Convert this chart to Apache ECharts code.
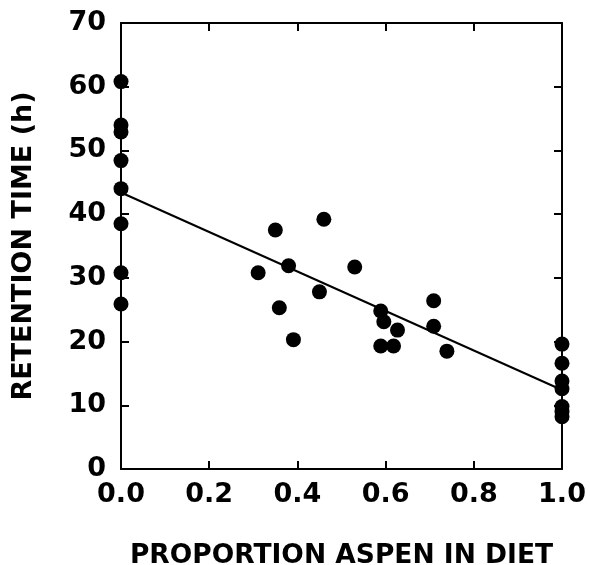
<!DOCTYPE html>
<html><head><meta charset="utf-8">
<script src="https://cdn.jsdelivr.net/npm/echarts@6/dist/echarts.min.js"></script>
<style>html,body{margin:0;padding:0;background:#fff}#c{width:590px;height:565px}</style>
</head><body><div id="c"></div>
<script>
const xTicks = [0, 0.2, 0.4, 0.6, 0.8, 1.0];
const yTicks = [0, 10, 20, 30, 40, 50, 60, 70];
const proportion = [0,0,0,0,0,0,0,0,
  0.311,0.35,0.359,0.38,0.391,0.45,0.46,0.53,0.589,0.596,0.589,0.618,0.627,0.709,0.709,0.739,
  1,1,1,1,1,1,1];
const retention = [60.8,54.0,52.9,48.4,44.0,38.5,30.8,25.9,
  30.8,37.5,25.3,31.9,20.3,27.8,39.2,31.7,24.8,23.1,19.3,19.3,21.8,26.4,22.4,18.5,
  19.6,16.6,13.8,12.6,9.8,9.0,8.2];
const fitX = [0, 1];
const fitY = [43.4, 12.4];

const font = 'DejaVu Sans, sans-serif';
const chart = echarts.init(document.getElementById('c'), null, {renderer:'canvas'});
const axisLine = {show:true, onZero:false, lineStyle:{color:'#000', width:2}};
const tick = {show:true, inside:true, length:8, lineStyle:{color:'#000', width:2}};
chart.setOption({
  animation:false,
  backgroundColor:'#fff',
  grid:{left:121, right:28, top:23, bottom:96, containLabel:false, outerBoundsMode:'none'},
  xAxis:[{
    type:'value', min:xTicks[0], max:xTicks[xTicks.length-1], interval:0.2,
    axisLine, axisTick:tick, splitLine:{show:false},
    axisLabel:{color:'#000', fontFamily:font, fontWeight:'bold', fontSize:27, margin:12,
      formatter:v=>v.toFixed(1)},
    name:'PROPORTION ASPEN IN DIET', nameLocation:'middle', nameGap:74,
    nameTextStyle:{color:'#000', fontFamily:font, fontWeight:'bold', fontSize:26.5}
  },{
    type:'value', position:'top', min:0, max:1, interval:0.2,
    axisLine, axisTick:tick, axisLabel:{show:false}, splitLine:{show:false}
  }],
  yAxis:[{
    type:'value', min:yTicks[0], max:yTicks[yTicks.length-1], interval:10,
    axisLine, axisTick:tick, splitLine:{show:false},
    axisLabel:{color:'#000', fontFamily:font, fontWeight:'bold', fontSize:27, margin:15},
    name:'RETENTION TIME (h)', nameLocation:'middle', nameGap:84, nameRotate:90,
    nameTextStyle:{color:'#000', fontFamily:font, fontWeight:'bold', fontSize:27}
  },{
    type:'value', position:'right', min:0, max:70, interval:10,
    axisLine, axisTick:tick, axisLabel:{show:false}, splitLine:{show:false}
  }],
  series:[{
    type:'line', data:fitX.map((x,i)=>[x,fitY[i]]), symbol:'none',
    lineStyle:{color:'#000', width:2}, z:2
  },{
    type:'scatter', data:proportion.map((x,i)=>[x,retention[i]]),
    symbol:'circle', symbolSize:15, itemStyle:{color:'#000', opacity:1}, z:3
  }]
});
</script></body></html>
